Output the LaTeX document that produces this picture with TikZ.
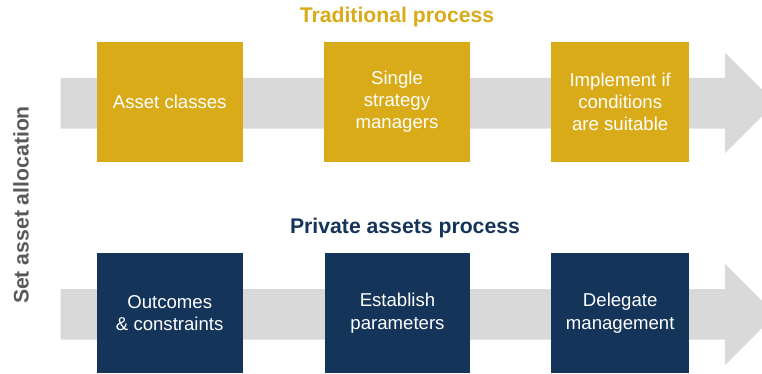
\documentclass[tikz,border=0pt]{standalone}
\usepackage{fontspec}
\setmainfont{Liberation Sans}
\definecolor{gold}{RGB}{217,171,24}
\definecolor{navy}{RGB}{21,52,89}
\definecolor{arrowgray}{RGB}{217,217,217}
\definecolor{labelgray}{RGB}{89,89,89}
\tikzset{
  boxbase/.style={rectangle, minimum height=119.7pt, inner sep=2pt, align=center, text=white,
    font=\fontsize{18.6}{22.3}\selectfont},
  goldbox/.style={boxbase, fill=gold},
  navybox/.style={boxbase, fill=navy},
  flowarrow/.style={fill=arrowgray, draw=none},
  titletext/.style={font=\fontsize{21.2}{25}\selectfont\bfseries}
}
\begin{document}
\begin{tikzpicture}[x=1pt,y=-1pt]
\useasboundingbox (0,0) rectangle (762,374);
\clip (0,0) rectangle (762,374);
% background arrows
\fill[flowarrow] (60.7,78) -- (725,78) -- (725,52.7) -- (775.5,103) -- (725,153.3) -- (725,128.7) -- (60.7,128.7) -- cycle;
\fill[flowarrow] (60.7,289) -- (725,289) -- (725,264) -- (775.5,314.5) -- (725,365) -- (725,339.7) -- (60.7,339.7) -- cycle;
% titles
\node[titletext, text=gold] (t1) at (397,17) {Traditional process};
\node[titletext, text=navy] (t2) at (405,228) {Private assets process};
\node[titletext, text=labelgray, rotate=90] (side) at (21,205) {Set asset allocation};
% top boxes
\node[goldbox, minimum width=146pt] (a1) at (169.7,101.8) {Asset classes};
\node[goldbox, minimum width=146pt] (a2) at (397,101.8) {Single\\strategy\\managers};
\node[goldbox, minimum width=138.3pt] (a3) at (620.2,101.8) {Implement if\\conditions\\are suitable};
% bottom boxes
\node[navybox, minimum width=146pt] (b1) at (169.7,313.2) {Outcomes\\\& constraints};
\node[navybox, minimum width=145pt] (b2) at (397.5,313.2) {Establish\\parameters};
\node[navybox, minimum width=138.3pt] (b3) at (620.2,313.2) {Delegate\\management};
\end{tikzpicture}
\end{document}
